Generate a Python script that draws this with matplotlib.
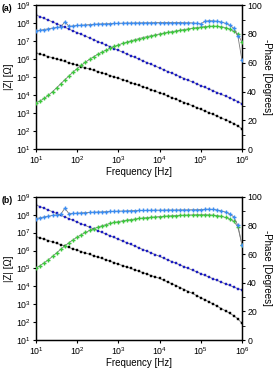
import numpy as np
import matplotlib
matplotlib.use('Agg')
import matplotlib.pyplot as plt
from matplotlib.ticker import FixedLocator, FuncFormatter, MultipleLocator, NullLocator

plt.rcParams['font.family'] = ['Liberation Sans', 'DejaVu Sans']
plt.rcParams['mathtext.default'] = 'regular'

# log10 of frequency [Hz], one point every 0.1 decade
log_freq = [1.0, 1.1, 1.2, 1.3, 1.4, 1.5, 1.6, 1.7, 1.8, 1.9,
            2.0, 2.1, 2.2, 2.3, 2.4, 2.5, 2.6, 2.7, 2.8, 2.9,
            3.0, 3.1, 3.2, 3.3, 3.4, 3.5, 3.6, 3.7, 3.8, 3.9,
            4.0, 4.1, 4.2, 4.3, 4.4, 4.5, 4.6, 4.7, 4.8, 4.9,
            5.0, 5.1, 5.2, 5.3, 5.4, 5.5, 5.6, 5.7, 5.8, 5.9, 6.0]

# panel (a): log10 |Z| [Ohm]
a_logz_blue = [8.46, 8.36, 8.26, 8.17, 8.07, 7.97, 7.87, 7.77, 7.67, 7.57,
               7.47, 7.38, 7.28, 7.18, 7.08, 6.98, 6.88, 6.79, 6.69, 6.59,
               6.49, 6.39, 6.29, 6.20, 6.10, 6.00, 5.90, 5.80, 5.71, 5.61,
               5.51, 5.41, 5.31, 5.22, 5.12, 5.02, 4.92, 4.82, 4.73, 4.63,
               4.53, 4.43, 4.34, 4.24, 4.14, 4.04, 3.95, 3.85, 3.75, 3.64, 3.52]
a_logz_black = [6.33, 6.27, 6.21, 6.14, 6.08, 6.01, 5.94, 5.87, 5.80, 5.73,
                5.66, 5.59, 5.52, 5.45, 5.38, 5.31, 5.24, 5.16, 5.09, 5.01,
                4.94, 4.86, 4.78, 4.70, 4.62, 4.54, 4.46, 4.38, 4.30, 4.21,
                4.13, 4.04, 3.95, 3.86, 3.77, 3.68, 3.59, 3.50, 3.41, 3.31,
                3.21, 3.12, 3.02, 2.93, 2.83, 2.73, 2.63, 2.53, 2.42, 2.29, 2.12]
# panel (a): -phase [degrees]
a_phase_lblue = [82.1, 82.6, 83.1, 83.6, 84.1, 84.5, 84.9, 88.4, 85.3, 85.6,
                 85.9, 86.1, 86.3, 86.5, 86.7, 86.9, 87.0, 87.1, 87.2, 87.3,
                 87.4, 87.5, 87.6, 87.6, 87.7, 87.7, 87.8, 87.8, 87.8, 87.9,
                 87.9, 87.9, 87.9, 87.9, 87.9, 87.9, 87.8, 87.8, 87.7, 87.4,
                 87.0, 88.8, 89.2, 89.1, 88.8, 88.3, 87.4, 86.1, 84.0, 78.5, 61.7]
a_phase_green = [32.2, 33.5, 35.2, 37.4, 39.9, 42.6, 45.4, 48.2, 50.9, 53.5,
                 56.0, 58.3, 60.4, 62.4, 64.2, 65.9, 67.4, 68.8, 70.1, 71.3,
                 72.4, 73.4, 74.3, 75.2, 76.0, 76.8, 77.5, 78.2, 78.8, 79.4,
                 80.0, 80.6, 81.1, 81.6, 82.1, 82.6, 83.1, 83.5, 84.0, 84.4,
                 84.8, 85.1, 85.3, 85.4, 85.3, 85.0, 84.4, 83.4, 81.8, 79.9, 74.2]

# panel (b): log10 |Z| [Ohm]
b_logz_blue = [8.55, 8.45, 8.36, 8.26, 8.17, 8.07, 7.97, 7.88, 7.78, 7.69,
               7.59, 7.49, 7.40, 7.30, 7.21, 7.11, 7.01, 6.92, 6.82, 6.73,
               6.63, 6.53, 6.44, 6.34, 6.25, 6.15, 6.05, 5.96, 5.86, 5.77,
               5.67, 5.57, 5.48, 5.38, 5.29, 5.19, 5.09, 5.00, 4.90, 4.81,
               4.71, 4.61, 4.52, 4.42, 4.33, 4.23, 4.14, 4.05, 3.96, 3.87, 3.80]
b_logz_black = [6.78, 6.71, 6.63, 6.56, 6.48, 6.40, 6.33, 6.25, 6.17, 6.09,
                6.02, 5.94, 5.86, 5.79, 5.71, 5.63, 5.56, 5.48, 5.40, 5.32,
                5.24, 5.16, 5.08, 5.00, 4.92, 4.84, 4.76, 4.68, 4.60, 4.52,
                4.44, 4.34, 4.24, 4.14, 4.04, 3.93, 3.82, 3.71, 3.60, 3.48,
                3.36, 3.25, 3.13, 3.01, 2.89, 2.76, 2.63, 2.50, 2.36, 2.18, 1.93]
# panel (b): -phase [degrees]
b_phase_lblue = [84.8, 85.4, 86.0, 86.5, 87.0, 87.4, 87.8, 92.1, 88.2, 88.4,
                 88.6, 88.8, 89.0, 89.1, 89.3, 89.4, 89.5, 89.7, 89.8, 89.9,
                 90.0, 90.1, 90.2, 90.3, 90.4, 90.5, 90.5, 90.6, 90.6, 90.7,
                 90.7, 90.7, 90.8, 90.8, 90.8, 90.9, 90.9, 90.9, 91.0, 91.0,
                 91.1, 91.3, 91.4, 91.2, 90.8, 90.2, 89.4, 88.1, 86.0, 80.0, 66.4]
b_phase_green = [50.1, 52.0, 54.0, 56.0, 58.4, 60.9, 63.4, 65.8, 68.0, 70.0,
                 71.9, 73.6, 75.1, 76.5, 77.7, 78.8, 79.8, 80.6, 81.4, 82.1,
                 82.7, 83.2, 83.7, 84.1, 84.5, 84.9, 85.2, 85.5, 85.8, 86.0,
                 86.2, 86.4, 86.6, 86.8, 86.9, 87.1, 87.2, 87.3, 87.4, 87.5,
                 87.5, 87.5, 87.4, 87.2, 86.9, 86.4, 85.6, 84.5, 82.9, 79.0, 66.4]

DARK_BLUE = '#1c1cc4'
LIGHT_BLUE = '#3a8cf2'
GREEN = '#3cc83c'
LINE_GREY = '#7a7a7a'


def pow10(v, pos):
    return '$10^{%d}$' % int(round(np.log10(v)))


def panel(fig, rect, tag, logz_blue, logz_black, phase_lblue, phase_green):
    freq = 10 ** np.array(log_freq)
    ax = fig.add_axes(rect)
    ax2 = ax.twinx()

    ax.plot(freq, 10 ** np.array(logz_black), '-', color=LINE_GREY, lw=0.6,
            marker='s', ms=2.1, mfc='black', mec='black', mew=0.3, zorder=3)
    ax.plot(freq, 10 ** np.array(logz_blue), '-', color=LINE_GREY, lw=0.6,
            marker='s', ms=2.1, mfc=DARK_BLUE, mec=DARK_BLUE, mew=0.3, zorder=3)
    ax2.plot(freq, phase_green, '-', color=LINE_GREY, lw=0.6,
             marker='+', ms=2.6, mec=GREEN, mew=1.0, zorder=3)
    ax2.plot(freq, phase_lblue, '-', color=LINE_GREY, lw=0.6,
             marker='+', ms=2.6, mec=LIGHT_BLUE, mew=1.0, zorder=3)

    ax.set_xscale('log')
    ax.set_yscale('log')
    ax.set_xlim(1e1, 1e6)
    ax.set_ylim(1e1, 1e9)
    ax2.set_ylim(0, 100)

    ax.xaxis.set_major_locator(FixedLocator([10.0 ** k for k in range(1, 7)]))
    ax.xaxis.set_major_formatter(FuncFormatter(pow10))
    ax.xaxis.set_minor_locator(NullLocator())
    ax.yaxis.set_major_locator(FixedLocator([10.0 ** k for k in range(1, 10)]))
    ax.yaxis.set_major_formatter(FuncFormatter(pow10))
    ax.yaxis.set_minor_locator(NullLocator())
    ax2.yaxis.set_major_locator(MultipleLocator(20))
    ax2.yaxis.set_minor_locator(MultipleLocator(10))

    for a in (ax, ax2):
        a.tick_params(which='major', direction='out', length=2.5, width=0.8,
                      labelsize=6.3, pad=1.2)
        a.tick_params(which='minor', direction='out', length=1.8, width=0.6)
        for s in a.spines.values():
            s.set_linewidth(0.9)

    ax.set_xlabel('Frequency [Hz]', fontsize=7, labelpad=0.5)
    ax.set_ylabel('|Z| [\u03a9]', fontsize=7, labelpad=1)
    ax2.set_ylabel('-Phase [Degrees]', fontsize=7, rotation=270, labelpad=7)

    fig.text(0.006, rect[1] + rect[3] - 0.010, tag, fontsize=6.3, fontweight='bold',
             va='center', ha='left')
    return ax, ax2


def main():
    fig = plt.figure(figsize=(2.75, 3.70), dpi=100)
    panel(fig, [0.131, 0.597, 0.749, 0.389], '(a)',
          a_logz_blue, a_logz_black, a_phase_lblue, a_phase_green)
    panel(fig, [0.131, 0.081, 0.749, 0.387], '(b)',
          b_logz_blue, b_logz_black, b_phase_lblue, b_phase_green)
    fig.savefig('out.png', dpi=100)


if __name__ == "__main__":
    main()
